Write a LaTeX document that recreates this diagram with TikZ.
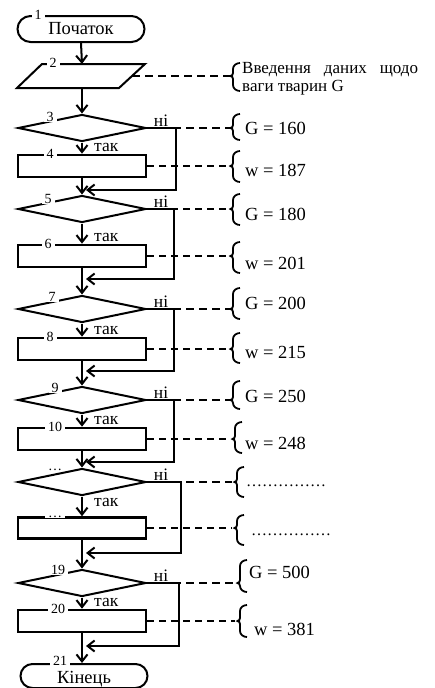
\documentclass[tikz,border=0pt]{standalone}
\usepackage{fontspec}
\setmainfont{Liberation Serif}
\usetikzlibrary{arrows.meta,shapes.geometric,shapes.misc}
\newcommand\mybrace[4]{% x, top, bottom, tip
  \draw[brc] (#1+7,#2) to[out=180,in=90] (#1,#2+6) -- (#1,#4-3) to[out=270,in=0] (#1-2.5,#4) to[out=0,in=90] (#1,#4+3) -- (#1,#3-6) to[out=270,in=180] (#1+7,#3);}
\begin{document}
\begin{tikzpicture}[x=1pt,y=-1pt,
  every node/.style={font=\fontsize{18.5}{20}\selectfont},
  term/.style={draw, line width=2pt, rounded rectangle, minimum width=127pt, minimum height=26pt, inner sep=0pt},
  dec/.style={draw, line width=2pt, diamond, minimum width=128pt, minimum height=27pt, inner sep=0pt},
  proc/.style={draw, line width=2.6pt, rectangle, minimum width=128pt, minimum height=22pt, inner sep=0pt},
  num/.style={fill=white, inner xsep=3pt, inner ysep=0.5pt, font=\fontsize{14}{14}\selectfont},
  flow/.style={line width=2pt, -{Straight Barb[length=7pt,width=11pt]}},
  yes/.style={font=\fontsize{17.5}{17.5}\selectfont, anchor=south west, inner sep=1pt},
  no/.style={font=\fontsize{17.5}{17.5}\selectfont, anchor=south, inner sep=1pt},
  thickdash/.style={line width=2.6pt, dash pattern=on 8pt off 5pt},
  thindash/.style={line width=1.6pt, dash pattern=on 7pt off 5pt},
  brc/.style={line width=1.8pt},
  val/.style={anchor=west, inner sep=0pt}
]
\useasboundingbox (0,0) rectangle (435,688);

% ---- shapes
\node[term] (T1) at (81,29) {Початок};
\coordinate (p2a) at (42,64);
\coordinate (p2b) at (145,64);
\coordinate (p2c) at (119,88);
\coordinate (p2d) at (17,88);
\coordinate (p2n) at (82,64);
\coordinate (p2s) at (82,88);
\coordinate (p2e) at (132,76);
\draw[line width=2pt] (p2a) -- (p2b) -- (p2c) -- (p2d) -- cycle;

\node[dec] (D3) at (82,128) {};
\node[proc] (R4) at (82,166) {};
\node[dec] (D5) at (82,209) {};
\node[proc] (R6) at (82,256) {};
\node[dec] (D7) at (82,309) {};
\node[proc] (R8) at (82,349) {};
\node[dec] (D9) at (82,400) {};
\node[proc] (R10) at (82,439) {};
\node[dec] (Dd) at (82,482) {};
\node[proc, minimum height=21pt] (Rd) at (82,528) {};
\node[dec] (D19) at (82,583) {};
\node[proc] (R20) at (82,621) {};
\node[term, minimum height=24pt, text depth=0pt] (T21) at (84,676) {\raisebox{-3pt}{Кінець}};

% ---- merge points
\coordinate (m3) at (82,190);
\coordinate (m5) at (82,279);
\coordinate (m7) at (82,371);
\coordinate (m9) at (82,462);
\coordinate (md) at (82,553);
\coordinate (m19) at (82,646);

% ---- main flow
\draw[flow] (T1.south) -- (p2n);
\draw[flow] (p2s) -- (D3.north);
\draw[flow] (D3.south) -- (R4.north);
\draw[flow] (R4.south) -- (D5.north);
\draw[flow] (D5.south) -- (R6.north);
\draw[flow] (R6.south) -- (D7.north);
\draw[flow] (D7.south) -- (R8.north);
\draw[flow] (R8.south) -- (D9.north);
\draw[flow] (D9.south) -- (R10.north);
\draw[flow] (R10.south) -- (Dd.north);
\draw[flow] (Dd.south) -- (Rd.north);
\draw[flow] (Rd.south) -- (D19.north);
\draw[flow] (D19.south) -- (R20.north);
\draw[flow] (R20.south) -- (T21.north -| R20.south);

% ---- loops (ні)
\draw[flow] (D3.east) -- ++(29,0) |- ([xshift=4pt]m3);
\draw[flow] (D5.east) -- ++(27,0) |- ([xshift=4pt]m5);
\draw[flow] (D7.east) -- ++(27,0) |- ([xshift=4pt]m7);
\draw[flow] (D9.east) -- ++(27,0) |- ([xshift=4pt]m9);
\draw[flow] (Dd.east) -- ++(34,0) |- ([xshift=4pt]md);
\draw[flow] (D19.east) -- ++(32,0) |- ([xshift=4pt]m19);

% ---- number labels
\node[num] (n1) at (38,15) {1};
\node[num] (n2) at (53,63) {2};
\node[num] (n3) at (50,117) {3};
\node[num] (n4) at (50,154) {4};
\node[num] (n5) at (48,199) {5};
\node[num] (n6) at (48,244) {6};
\node[num] (n7) at (52,297) {7};
\node[num] (n8) at (50,337) {8};
\node[num] (n9) at (55,388) {9};
\node[num] (n10) at (55,427) {10};
\node[num] (n11) at (55,470) {\dots};
\node[num] (n12) at (55,516.5) {\dots};
\node[num] (n19) at (58,570) {19};
\node[num] (n20) at (58,609) {20};
\node[num] (n21) at (60,661) {21};

% ---- так / ні
\foreach \r in {R4,R6,R8,R10,R20}{
  \node[yes] at ([xshift=11pt,yshift=1pt]\r.north) {так};
}
\node[yes] at ([xshift=11pt,yshift=8pt]Rd.north) {так};
\foreach \d in {D3,D5,D7,D9,Dd,D19}{
  \node[no] at ([xshift=14pt]\d.east) {ні};
}

% ---- dashed links
\draw[thickdash] (p2e) -- (230,76);
\draw[thickdash] (D3.east) -- (230,128);
\draw[thindash] (R4.east) -- (230,166);
\draw[thindash] (D5.east) -- (230,209);
\draw[thindash] (R6.east) -- (230,256);
\draw[thickdash] (D7.east) -- (230,309);
\draw[thindash] (R8.east) -- (230,349);
\draw[thickdash] (D9.east) -- (230,400);
\draw[thindash] (R10.east) -- (230,439);
\draw[thickdash] (Dd.east) -- (232,482);
\draw[thindash] (Rd.east) -- (232,528);
\draw[thickdash] (D19.east) -- (235,583);
\draw[thindash] (R20.east) -- (235,621);

% ---- braces
\mybrace{233}{63}{91}{76}
\mybrace{233}{114}{140}{128}
\mybrace{233}{151}{182}{166}
\mybrace{233}{194}{225}{209}
\mybrace{233}{242}{273}{256}
\mybrace{233}{288}{319}{309}
\mybrace{233}{333}{363}{349}
\mybrace{233}{381}{409}{400}
\mybrace{235}{422}{453}{439}
\mybrace{237}{467}{497}{482}
\mybrace{237}{515}{545}{528}
\mybrace{240}{560}{592}{583}
\mybrace{240}{605}{637}{621}

% ---- texts
\node[anchor=north west, align=left, inner sep=0pt, font=\fontsize{17}{18}\selectfont] (t2) at (242,62)
  {Введення\hspace{13pt}даних\hspace{13pt}щодо\\ваги тварин G};
\node[val] (t3) at (245,128) {G = 160};
\node[val] (t4) at (245,170) {w = 187};
\node[val] (t5) at (245,214) {G = 180};
\node[val] (t6) at (245,263) {w = 201};
\node[val] (t7) at (245,303) {G = 200};
\node[val] (t8) at (245,352) {w = 215};
\node[val] (t9) at (245,396) {G = 250};
\node[val] (t10) at (245,443) {w = 248};
\node[val, font=\fontsize{16}{16}\selectfont] (t11) at (246,486) {\dots\dots\dots\dots\dots};
\node[val, font=\fontsize{16}{16}\selectfont] (t12) at (251,535) {\dots\dots\dots\dots\dots};
\node[val] (t19) at (249,572) {G = 500};
\node[val] (t20) at (254,629) {w = 381};
\end{tikzpicture}
\end{document}
